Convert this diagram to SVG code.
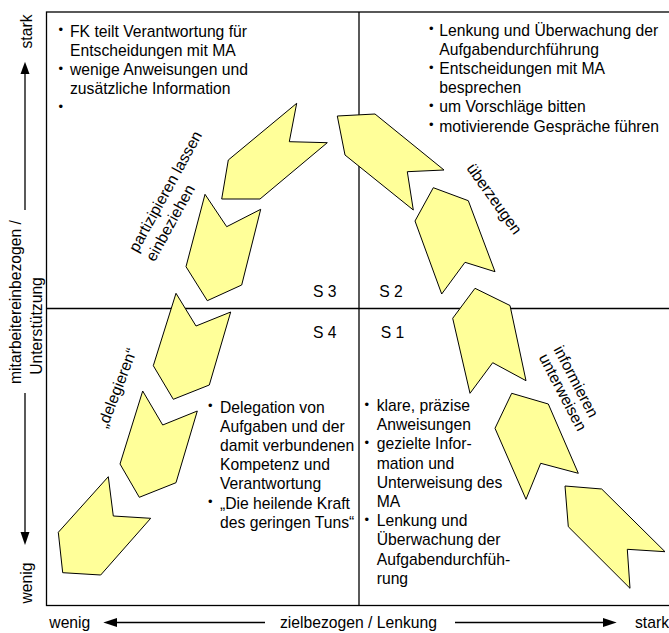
<svg xmlns="http://www.w3.org/2000/svg" width="669" height="633" viewBox="0 0 669 633">
<style>
text{font-family:"Liberation Sans",Arial,sans-serif;font-size:15.7px;fill:#000}
text.b{font-size:13px}
.frame{fill:none;stroke:#000;stroke-width:1.3}
.chev{fill:#FFFF99;stroke:#000;stroke-width:1}
.ax{stroke:#000;stroke-width:1.3;fill:none}
.head{fill:#000}
</style>
<rect width="669" height="633" fill="#fff"/>
<g id="frame">
<rect class="frame" x="46.5" y="12" width="640" height="593.5"/>
<line class="frame" x1="359" y1="12" x2="359" y2="605.5"/>
<line class="frame" x1="46.5" y1="308.5" x2="680" y2="308.5"/>
</g>
<g id="axes">
<line class="ax" x1="25" y1="210" x2="25" y2="72"/>
<polygon class="head" points="25,61.7 20.5,74 29.5,74"/>
<line class="ax" x1="25" y1="393" x2="25" y2="534"/>
<polygon class="head" points="25,545 20.5,532 29.5,532"/>
<line class="ax" x1="265" y1="622.5" x2="115" y2="622.5"/>
<polygon class="head" points="103.3,622.5 117,618 117,627"/>
<line class="ax" x1="455" y1="622.5" x2="605" y2="622.5"/>
<polygon class="head" points="616.7,622.5 603,618 603,627"/>
<text transform="translate(31.5,31.5) rotate(-90)" text-anchor="middle">stark</text>
<text transform="translate(21,302) rotate(-90)" text-anchor="middle">mitarbeitereinbezogen /</text>
<text transform="translate(42,326) rotate(-90)" text-anchor="middle">Unterstützung</text>
<text transform="translate(31.5,583) rotate(-90)" text-anchor="middle">wenig</text>
<text x="49.3" y="627.5">wenig</text>
<text x="280" y="627.5">zielbezogen / Lenkung</text>
<text x="635" y="627.5">stark</text>
</g>
<g id="connectors">
<polygon class="chev" points="228.3,160 296.7,103.3 289.3,141.7 327.3,142.7 260,199 221.7,199"/>
<polygon class="chev" points="205,194.3 226.7,226.7 260.7,209.3 241.7,285 207.3,300.7 186,266.7"/>
<polygon class="chev" points="176,293.3 196,326 230.7,312 209.3,385 173.3,399.3 153.3,365.7"/>
<polygon class="chev" points="142.7,391 162.7,425 197.3,411 176,482.7 139.3,497.3 120,464"/>
<polygon class="chev" points="108.3,476.7 113.3,516 150.7,518.3 100.7,575 62.7,572.7 58.3,532.3"/>
<polygon class="chev" points="337.3,116 375,114 444,170 407.3,171.7 413.3,210 345,155"/>
<polygon class="chev" points="433.3,187.7 468.3,200.7 495,271.7 465,262.3 441.7,294 415,221"/>
<polygon class="chev" points="475,288.3 510,305.5 526,380.7 492.7,362.7 470,393.3 452.7,318.3"/>
<polygon class="chev" points="511.7,393.3 548.3,404 578.3,473.3 540.7,463.3 526,499.3 495,428.3"/>
<polygon class="chev" points="565,486 601.7,489 665,551.7 627.3,549.3 630,588.3 568.3,526.7"/>
<text transform="translate(170,194) rotate(-61.2)" text-anchor="middle">partizipieren lassen</text>
<text transform="translate(170,194) rotate(-61.2) translate(-67.5,19.5)">einbeziehen</text>
<text transform="translate(490,202) rotate(54.5)" text-anchor="middle">überzeugen</text>
<text transform="translate(571.4,384) rotate(62.4)" text-anchor="middle">informieren</text>
<text transform="translate(558.1,394.8) rotate(62.4)" text-anchor="middle">unterweisen</text>
<text transform="translate(122,390) rotate(-69)" text-anchor="middle">„delegieren“</text>
</g>
<g id="S3">
<text x="313" y="296.7">S 3</text>
<text class="b" x="58.5" y="34.3">•</text><text x="70" y="36.5">FK teilt Verantwortung für</text>
<text x="70" y="55.7">Entscheidungen mit MA</text>
<text class="b" x="58.5" y="72.8">•</text><text x="70" y="75">wenige Anweisungen und</text>
<text x="70" y="94.2">zusätzliche Information</text>
<text class="b" x="58.5" y="111.3">•</text>
</g>
<g id="S2">
<text x="379.3" y="296.7">S 2</text>
<text class="b" x="429" y="33.3">•</text><text x="439.3" y="35.5">Lenkung und Überwachung der</text>
<text x="439.3" y="54.7">Aufgabendurchführung</text>
<text class="b" x="429" y="71.7">•</text><text x="439.3" y="73.9">Entscheidungen mit MA</text>
<text x="439.3" y="93.1">besprechen</text>
<text class="b" x="429" y="110.1">•</text><text x="439.3" y="112.3">um Vorschläge bitten</text>
<text class="b" x="429" y="129.3">•</text><text x="439.3" y="131.5">motivierende Gespräche führen</text>
</g>
<g id="S4">
<text x="313" y="338.3">S 4</text>
<text class="b" x="208" y="410.3">•</text><text x="220" y="412.5">Delegation von</text>
<text x="220" y="431.7">Aufgaben und der</text>
<text x="220" y="450.9">damit verbundenen</text>
<text x="220" y="470.1">Kompetenz und</text>
<text x="220" y="489.3">Verantwortung</text>
<text class="b" x="208" y="506.3">•</text><text x="220" y="508.5">„Die heilende Kraft</text>
<text x="220" y="527.7">des geringen Tuns“</text>
</g>
<g id="S1">
<text x="380.7" y="338.3">S 1</text>
<text class="b" x="364.5" y="408.8">•</text><text x="376.7" y="411">klare, präzise</text>
<text x="376.7" y="430.2">Anweisungen</text>
<text class="b" x="364.5" y="447.2">•</text><text x="376.7" y="449.4">gezielte Infor-</text>
<text x="376.7" y="468.6">mation und</text>
<text x="376.7" y="487.8">Unterweisung des</text>
<text x="376.7" y="507">MA</text>
<text class="b" x="364.5" y="524">•</text><text x="376.7" y="526.2">Lenkung und</text>
<text x="376.7" y="545.4">Überwachung der</text>
<text x="376.7" y="564.6">Aufgabendurchfüh-</text>
<text x="376.7" y="583.8">rung</text>
</g>
</svg>
